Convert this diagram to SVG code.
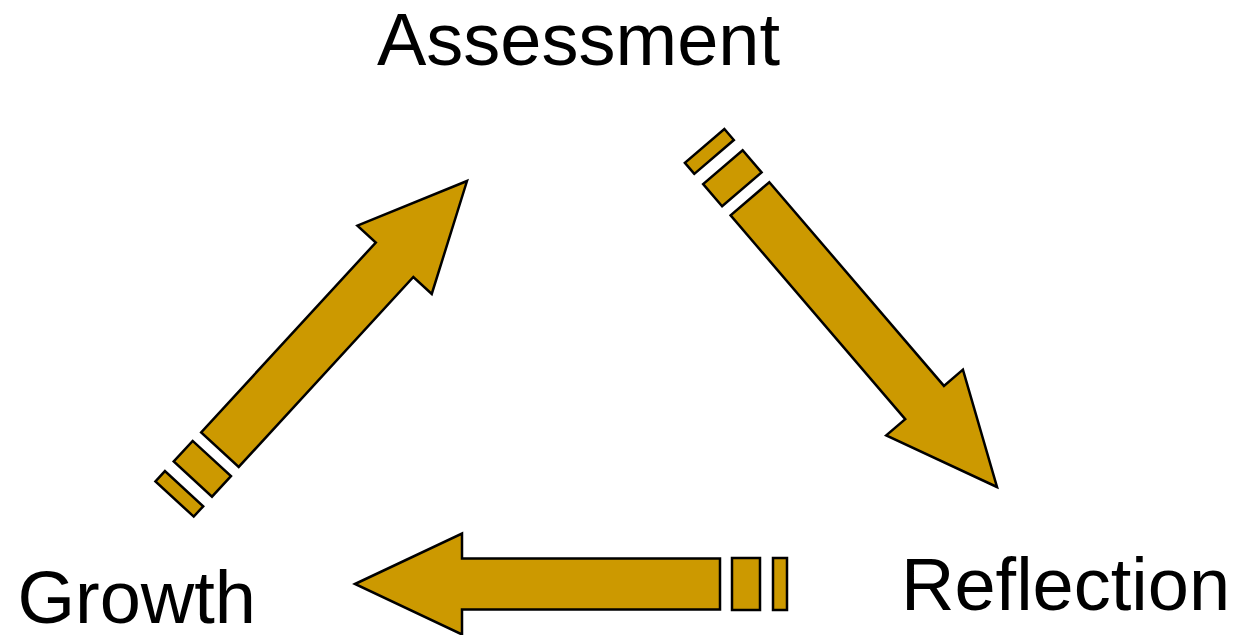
<svg xmlns="http://www.w3.org/2000/svg" width="1241" height="635" viewBox="0 0 1241 635">
  <style>
    .label { font-family: "Liberation Sans", Arial, sans-serif; font-size: 74px; fill: #000000; }
    .arrow-part { fill: #CC9900; stroke: #000000; stroke-width: 2.5; stroke-linejoin: miter; vector-effect: non-scaling-stroke; }
  </style>
  <defs>
    <!-- Striped block arrow, tip at the origin, pointing toward -x -->
    <g id="striped-arrow">
      <path class="arrow-part" d="M0,0 L107,-50.5 L107,-25.5 L365,-25.5 L365,25.5 L107,25.5 L107,50.5 Z"/>
      <rect class="arrow-part" x="377" y="-26" width="28" height="52"/>
      <rect class="arrow-part" x="418" y="-26" width="14" height="52"/>
    </g>
  </defs>

  <rect width="1241" height="635" fill="#FFFFFF"/>

  <g id="connectors">
    <!-- Assessment to Reflection -->
    <use href="#striped-arrow" transform="translate(997,487) rotate(-130.6) scale(1.04,1)"/>
    <!-- Reflection to Growth -->
    <use href="#striped-arrow" transform="translate(355,584)"/>
    <!-- Growth to Assessment -->
    <use href="#striped-arrow" transform="translate(467,181) rotate(132.6)"/>
  </g>

  <g id="node-assessment">
    <text class="label" x="578.5" y="65" text-anchor="middle">Assessment</text>
  </g>
  <g id="node-reflection">
    <text class="label" x="901" y="610">Reflection</text>
  </g>
  <g id="node-growth">
    <text class="label" x="17.5" y="623">Growth</text>
  </g>
</svg>
